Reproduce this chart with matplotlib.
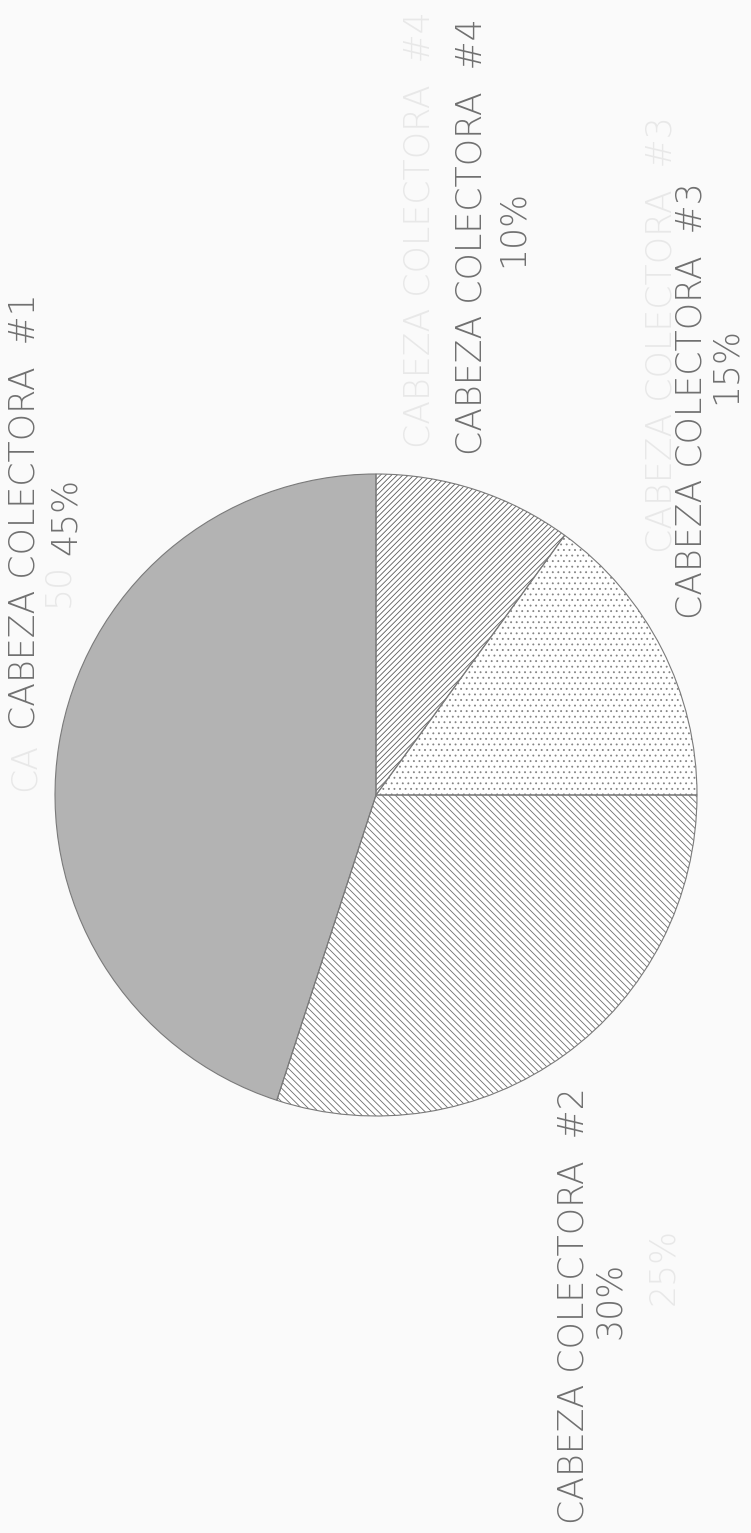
import matplotlib
matplotlib.use('Agg')
from matplotlib import pyplot as plt

# slices, in the order they are drawn (counter-clockwise from the top)
labels = ['CABEZA COLECTORA  #1', 'CABEZA COLECTORA  #2',
          'CABEZA COLECTORA  #3', 'CABEZA COLECTORA  #4']
shares = [45, 30, 15, 10]
pct_text = [f'{s}%' for s in shares]

# faint text showing through from the back of the sheet
ghost_text = ['CA', '50', 'CABEZA COLECTORA  #4', 'CABEZA COLECTORA  #3', '25%']

# the page was scanned sideways, so work in image pixels (y from the top)
W, H = 751, 1533
cx, cy, r = 376, 795, 321

fills = ['#b3b3b3', 'white', 'white', 'white']
hatches = [None, '\\' * 5, '...', '/' * 6]
hatch_cols = ['#b3b3b3', '#6c6c6c', '#858585', '#5a5a5a']

# centre of the name line and of the % line for each label
name_xy = [(25, 512), (574, 1306), (691, 401), (472, 237)]
pct_xy = [(66, 516), (610, 1300), (726, 366), (513, 228)]
ghost_xy = [(25, 767), (58, 585), (419, 230), (661, 335), (663, 1266)]

fs = 25
txt_col = '#707070'

plt.rcParams['hatch.linewidth'] = 0.6
fig = plt.figure(figsize=(W / 100, H / 100), dpi=100)
fig.patch.set_facecolor('#fafafa')
ax = fig.add_axes([0, 0, 1, 1])

wedges, _ = ax.pie(shares, center=(cx, H - cy), radius=r, startangle=90,
                   counterclock=True, colors=fills,
                   wedgeprops=dict(linewidth=0))
for w, h, hc in zip(wedges, hatches, hatch_cols):
    w.set_edgecolor(hc)
    if h:
        w.set_hatch(h)

# thin plotter outline over the fills
ax.pie(shares, center=(cx, H - cy), radius=r, startangle=90, counterclock=True,
       wedgeprops=dict(fill=False, edgecolor='#7a7a7a', linewidth=0.8))

for (gx, gy), g in zip(ghost_xy, ghost_text):
    ax.text(gx, H - gy, g, rotation=90, ha='center', va='center',
            fontsize=fs, color='#e8e8e8', fontweight='light')

for name, pct, (nx, ny), (px, py) in zip(labels, pct_text, name_xy, pct_xy):
    ax.text(nx, H - ny, name, rotation=90, ha='center', va='center',
            fontsize=fs, color=txt_col, fontweight='light')
    ax.text(px, H - py, pct, rotation=90, ha='center', va='center',
            fontsize=fs, color=txt_col, fontweight='light')

ax.set_xlim(0, W)
ax.set_ylim(0, H)
ax.axis('off')

fig.savefig('out.png', dpi=100, facecolor=fig.get_facecolor())
